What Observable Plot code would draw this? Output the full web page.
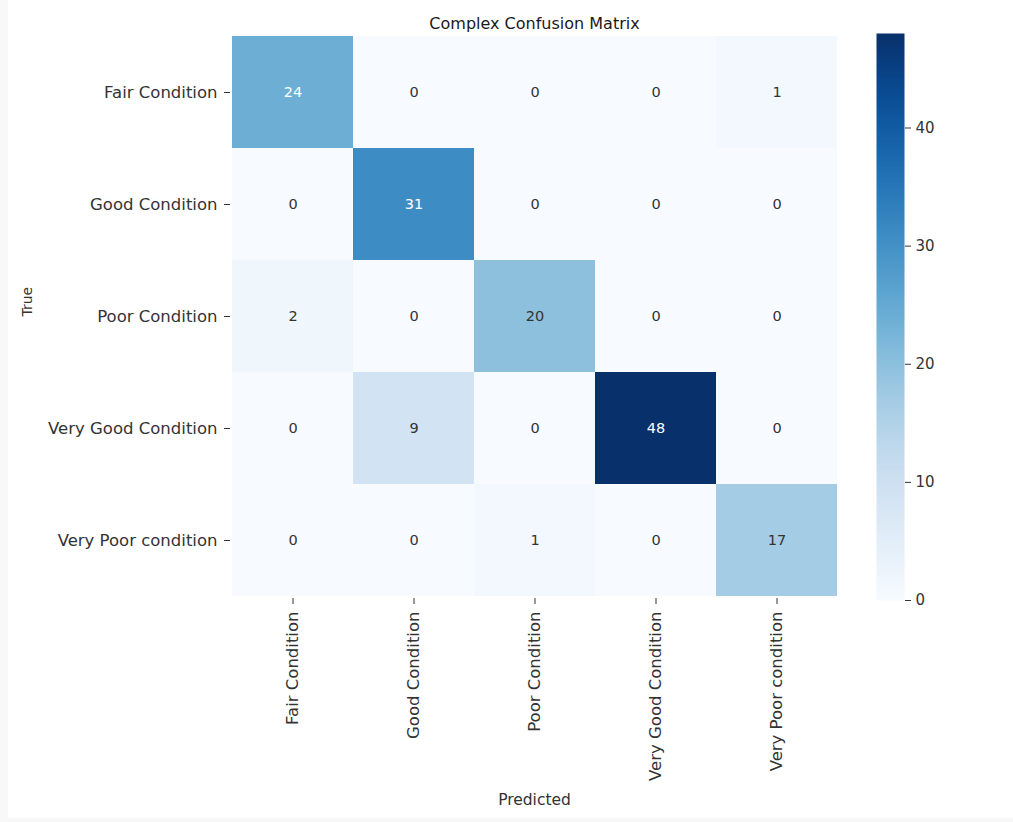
<!DOCTYPE html>
<html>
<head>
<meta charset="utf-8">
<script src="https://cdn.jsdelivr.net/npm/d3@7"></script>
<script src="https://cdn.jsdelivr.net/npm/@observablehq/plot@0.6"></script>
<style>
  html, body { margin: 0; padding: 0; background: #f8f8f8; }
  #chart { position: relative; width: 1013px; height: 822px; font-family: "DejaVu Sans", sans-serif; }
  #panel { position: absolute; left: 8px; top: 0; width: 1005px; height: 818px; background: #ffffff; }
  #chart svg { position: absolute; top: 0; background: transparent; }
</style>
</head>
<body>
<div id="chart"><div id="panel"></div></div>
<script>
// Class labels (rows = true class, columns = predicted class)
const classes = ["Fair Condition", "Good Condition", "Poor Condition", "Very Good Condition", "Very Poor condition"];

// Confusion counts, one array per true class
const fairRow      = [24, 0, 0, 0, 1];
const goodRow      = [0, 31, 0, 0, 0];
const poorRow      = [2, 0, 20, 0, 0];
const veryGoodRow  = [0, 9, 0, 48, 0];
const veryPoorRow  = [0, 0, 1, 0, 17];

const colorbarTicks = [0, 10, 20, 30, 40];
const colorMax = 48;

const rows = [fairRow, goodRow, poorRow, veryGoodRow, veryPoorRow];
const cells = rows.flatMap((r, i) => r.map((v, j) => ({actual: classes[i], predicted: classes[j], value: v})));

const colorScale = {type: "linear", scheme: "blues", domain: [0, colorMax]};

// Annotation text: white on dark cells, dark on light cells (relative luminance)
function textColor(v) {
  const c = d3.rgb(d3.interpolateBlues(v / colorMax));
  const lin = u => { u /= 255; return u <= 0.03928 ? u / 12.92 : Math.pow((u + 0.055) / 1.055, 2.4); };
  const lum = 0.2126 * lin(c.r) + 0.7152 * lin(c.g) + 0.0722 * lin(c.b);
  return lum > 0.408 ? "#333333" : "#ffffff";
}

const font = "DejaVu Sans, sans-serif";

const heatmap = Plot.plot({
  width: 1013,
  height: 822,
  marginLeft: 230,
  marginRight: 175,
  marginTop: 34,
  marginBottom: 224,
  style: {fontFamily: font, fontSize: "16px", color: "#333333", background: "transparent"},
  x: {domain: classes, padding: 0, label: null},
  y: {domain: classes, padding: 0, label: null},
  color: colorScale,
  marks: [
    Plot.cell(cells, {x: "predicted", y: "actual", fill: "value", inset: 0}),
    Plot.text(cells, {x: "predicted", y: "actual", text: d => String(d.value), fill: d => textColor(d.value), fontSize: 14.5}),
    Plot.axisX({tickRotate: -90, tickSize: 6, tickPadding: 7, fontSize: 16.5, label: null}),
    Plot.axisY({tickSize: 6, tickPadding: 7, fontSize: 16.5, label: null}),
    Plot.text(["Complex Confusion Matrix"], {frameAnchor: "top", dy: -17, fontSize: 16, fill: "#1a1a1a"}),
    Plot.text(["Predicted"], {frameAnchor: "bottom", dy: 206, fontSize: 15.5, fill: "#333333"}),
    Plot.text(["True"], {frameAnchor: "left", dx: -203, rotate: -90, fontSize: 14, fill: "#333333"})
  ]
});

// Vertical colorbar drawn with the same color scale
const colorbar = Plot.plot({
  width: 110,
  height: 822,
  marginLeft: 0,
  marginRight: 82,
  marginTop: 33,
  marginBottom: 222,
  style: {fontFamily: font, fontSize: "15px", color: "#333333", background: "transparent"},
  x: {domain: [0, 1], axis: null},
  y: {domain: [0, colorMax], label: null},
  color: colorScale,
  marks: [
    Plot.raster({x1: 0, x2: 1, y1: 0, y2: colorMax, width: 1, height: 400, fill: (x, y) => y, imageRendering: "auto"}),
    Plot.axisY({anchor: "right", ticks: colorbarTicks, tickSize: 6, tickPadding: 5, fontSize: 15, label: null})
  ]
});

const chart = document.getElementById("chart");
heatmap.style.left = "0px";
colorbar.style.left = "876px";
chart.append(heatmap, colorbar);
</script>
</body>
</html>
